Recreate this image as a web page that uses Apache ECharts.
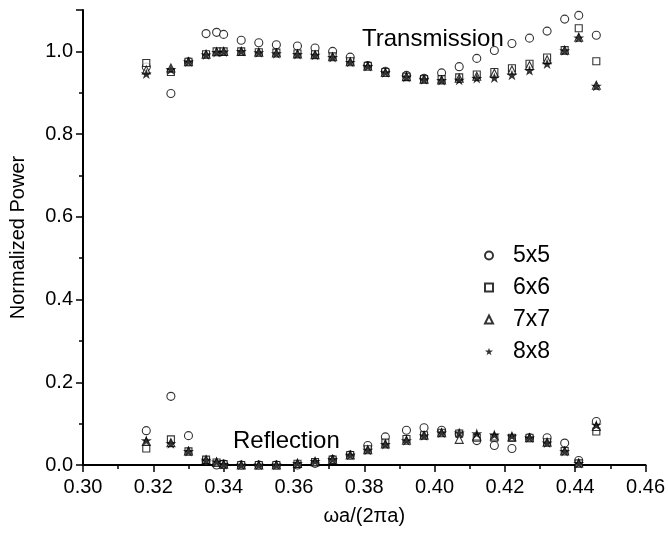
<!DOCTYPE html>
<html>
<head>
<meta charset="utf-8">
<script src="https://cdn.jsdelivr.net/npm/echarts@6/dist/echarts.min.js"></script>
<style>html,body{margin:0;padding:0;background:#fff;}#c{width:668px;height:536px;}</style>
</head>
<body>
<div id="c"></div>
<script>
// normalized frequency ωa/(2πa)
const freq = [0.318, 0.325, 0.330, 0.335, 0.338, 0.340, 0.345, 0.350, 0.355, 0.361, 0.366, 0.371, 0.376, 0.381, 0.386, 0.392, 0.397, 0.402, 0.407, 0.412, 0.417, 0.422, 0.427, 0.432, 0.437, 0.441, 0.446];
// transmission
const trans5 = [0.962, 0.898, 0.975, 1.043, 1.046, 1.041, 1.027, 1.021, 1.016, 1.013, 1.008, 1.000, 0.986, 0.966, 0.952, 0.942, 0.935, 0.948, 0.963, 0.983, 1.002, 1.019, 1.032, 1.049, 1.078, 1.087, 1.039];
const trans6 = [0.972, 0.950, 0.975, 0.993, 1.000, 1.000, 1.000, 0.998, 0.997, 0.995, 0.993, 0.988, 0.976, 0.965, 0.950, 0.939, 0.933, 0.933, 0.937, 0.944, 0.950, 0.959, 0.970, 0.985, 1.003, 1.056, 0.976];
const trans7 = [0.955, 0.960, 0.975, 0.993, 0.999, 1.000, 1.000, 0.998, 0.996, 0.994, 0.992, 0.987, 0.975, 0.964, 0.949, 0.939, 0.933, 0.931, 0.935, 0.940, 0.947, 0.955, 0.966, 0.980, 1.003, 1.034, 0.918];
const trans8 = [0.946, 0.956, 0.975, 0.992, 0.998, 0.999, 1.000, 0.997, 0.995, 0.993, 0.991, 0.986, 0.974, 0.964, 0.949, 0.938, 0.932, 0.930, 0.931, 0.935, 0.936, 0.943, 0.954, 0.970, 1.002, 1.033, 0.916];
// reflection
const refl5 = [0.083, 0.166, 0.071, 0.010, 0.000, 0.002, 0.000, 0.000, 0.000, 0.000, 0.004, 0.013, 0.024, 0.047, 0.068, 0.084, 0.090, 0.084, 0.075, 0.059, 0.047, 0.040, 0.066, 0.066, 0.053, 0.011, 0.105];
const refl6 = [0.040, 0.062, 0.033, 0.013, 0.006, 0.002, 0.000, 0.000, 0.000, 0.003, 0.007, 0.013, 0.024, 0.038, 0.054, 0.063, 0.072, 0.078, 0.076, 0.066, 0.066, 0.066, 0.066, 0.055, 0.034, 0.004, 0.081];
const refl7 = [0.057, 0.054, 0.034, 0.013, 0.007, 0.002, 0.000, 0.000, 0.000, 0.004, 0.008, 0.014, 0.024, 0.037, 0.051, 0.060, 0.072, 0.078, 0.062, 0.070, 0.070, 0.068, 0.066, 0.055, 0.034, 0.005, 0.093];
const refl8 = [0.059, 0.052, 0.033, 0.012, 0.008, 0.002, 0.000, 0.000, 0.000, 0.004, 0.009, 0.014, 0.024, 0.036, 0.050, 0.059, 0.071, 0.078, 0.078, 0.076, 0.073, 0.070, 0.066, 0.054, 0.033, 0.004, 0.097];
const seriesNames = ['5x5', '6x6', '7x7', '8x8'];
const xTicks = [0.30, 0.32, 0.34, 0.36, 0.38, 0.40, 0.42, 0.44, 0.46];
const yTicks = [0.0, 0.2, 0.4, 0.6, 0.8, 1.0];

const FONT = "'Liberation Sans', Arial, sans-serif";
const STAR = 'path://M50,0 L61.2,34.5 L97.6,34.5 L68.2,55.9 L79.4,90.5 L50,69.1 L20.6,90.5 L31.8,55.9 L2.4,34.5 L38.8,34.5 Z';

function pts(t, r) {
  const out = [];
  freq.forEach((f, i) => out.push([f, t[i]]));
  freq.forEach((f, i) => out.push([f, r[i]]));
  return out;
}
const hollow = { color: '#fff', borderColor: '#000', borderWidth: 1.1 };
const symbols = [
  { symbol: 'circle', size: 8, style: hollow, t: trans5, r: refl5 },
  { symbol: 'rect', size: 7, style: hollow, t: trans6, r: refl6 },
  { symbol: 'triangle', size: 8, style: hollow, t: trans7, r: refl7 },
  { symbol: STAR, size: 11, style: { color: '#000' }, t: trans8, r: refl8 }
];

const chart = echarts.init(document.getElementById('c'), null, { renderer: 'canvas' });
chart.setOption({
  backgroundColor: '#fff',
  animation: false,
  grid: { left: 83, right: 22, top: 10, bottom: 71, containLabel: false },
  legend: {
    orient: 'vertical', left: 479, top: 239, itemWidth: 8, itemHeight: 8, itemGap: 9,
    textStyle: { fontFamily: FONT, fontSize: 23, color: '#000', padding: [0, 0, 0, 15] },
    data: seriesNames
  },
  xAxis: {
    type: 'value', min: 0.30, max: 0.46, interval: 0.02,
    name: 'ωa/(2πa)', nameLocation: 'middle', nameGap: 41,
    nameTextStyle: { fontFamily: FONT, fontSize: 20, color: '#000' },
    axisLine: { onZero: false, lineStyle: { color: '#000', width: 2 } },
    axisTick: { inside: false, length: 7, lineStyle: { color: '#000', width: 1.5 } },
    minorTick: { show: true, splitNumber: 2, length: 4, lineStyle: { color: '#000', width: 1.5 } },
    axisLabel: { fontFamily: FONT, fontSize: 20, color: '#000', margin: 12,
      formatter: v => xTicks.some(t => Math.abs(t - v) < 1e-6) ? v.toFixed(2) : '' },
    splitLine: { show: false }
  },
  yAxis: [{
    type: 'value', min: 0, max: 1.1, interval: 0.2,
    name: 'Normalized Power', nameLocation: 'middle', nameGap: 55,
    nameTextStyle: { fontFamily: FONT, fontSize: 20, color: '#000' },
    axisLine: { lineStyle: { color: '#000', width: 2 } },
    axisTick: { length: 7, lineStyle: { color: '#000', width: 1.5 } },
    axisLabel: { fontFamily: FONT, fontSize: 20, color: '#000', margin: 10,
      formatter: v => yTicks.some(t => Math.abs(t - v) < 1e-6) ? v.toFixed(1) : '' },
    splitLine: { show: false }
  }, {
    type: 'value', min: 0, max: 1.1, interval: 0.1, position: 'left', offset: 0,
    axisLine: { show: false },
    axisTick: { length: 4, lineStyle: { color: '#000', width: 1.5 } },
    axisLabel: { show: false },
    splitLine: { show: false }
  }],
  graphic: [
    { type: 'text', left: 362, top: 27, style: { text: 'Transmission', font: '24px ' + FONT, fill: '#000' } },
    { type: 'text', left: 233, top: 429, style: { text: 'Reflection', font: '24px ' + FONT, fill: '#000' } }
  ],
  series: symbols.map((s, k) => ({
    type: 'scatter', name: seriesNames[k], yAxisIndex: 0,
    symbol: s.symbol, symbolSize: s.size, symbolKeepAspect: true,
    itemStyle: s.style,
    data: pts(s.t, s.r)
  }))
});
</script>
</body>
</html>
